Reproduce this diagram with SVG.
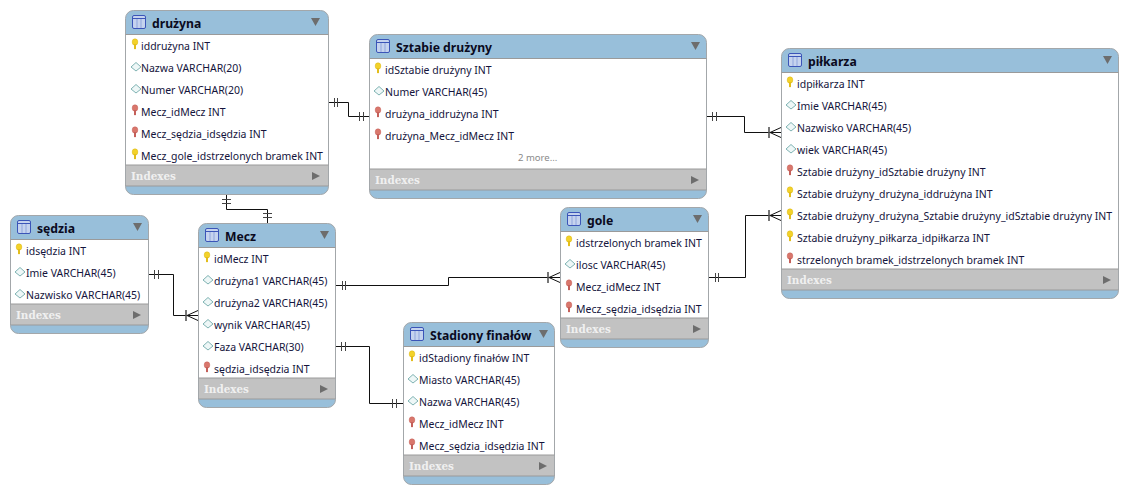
<svg xmlns="http://www.w3.org/2000/svg" width="1128" height="494" viewBox="0 0 1128 494">
<style>
.card{fill:#98bfda;stroke:#a3a7aa;stroke-width:1}
.body{fill:#fff}
.bar{fill:#c2c2c2}
.edge{stroke:#9a9a9a;stroke-width:1;fill:none}
.title{font:bold 12.2px "Noto Sans","DejaVu Sans",sans-serif;fill:#0a0a20}
.row{font:10.47px "Noto Sans","DejaVu Sans",sans-serif;fill:#14143c}
.idx{font:bold 10.4px "DejaVu Serif","Noto Sans",serif;fill:#f0f0f0}
.more{font:9.5px "Noto Sans","DejaVu Sans",sans-serif;fill:#8a8a8a}
.conn{fill:none;stroke:#111;stroke-width:1}
.hash{fill:none;stroke:#444;stroke-width:1}
.crowbar{fill:none;stroke:#555;stroke-width:1.6}
</style>
<defs>
<g id="tbl"><rect x="0.5" y="0.5" width="13" height="13" rx="1.5" fill="#c5d3ee" stroke="#3b55b8"/><path d="M1 3.5H13" stroke="#3b55b8"/><path d="M5 4V13M9 4V13" stroke="#8fa5dc"/></g>
<path id="tri" d="M0 0H9L4.500 8Z" fill="#6d6d6d"/>
<path id="arr" d="M0 0L8 4L0 8Z" fill="#6d6d6d"/>
<g id="pk"><ellipse cx="3" cy="3" rx="2.800" ry="3.200" fill="#f3d22a" stroke="#d8b514" stroke-width=".5"/><path d="M2 5V9.500L3 10.500L4 9.500V5Z" fill="#e2bd1c"/></g>
<g id="fk"><ellipse cx="3" cy="3" rx="2.800" ry="3.200" fill="#d9776c" stroke="#c4605a" stroke-width=".5"/><path d="M2 5V9.500L3 10.500L4 9.500V5Z" fill="#c4605a"/></g>
<path id="col" d="M5 0.500L10 5L5 9L0 5Z" fill="#eef7f7" stroke="#7fb3b3" stroke-width="1"/>
</defs>

<g id="connectors">
<path class="conn" d="M328.500 102.500H348.500V116.500H369"/>
<path class="hash" d="M334.500 98V107M337.500 98V107M359.500 112V121M363.500 112V121"/>
<path class="conn" d="M226.500 195V209.500H267.500V223"/>
<path class="hash" d="M222 199.500H231M222 203.500H231M263 213.500H272M263 217.500H272"/>
<path class="conn" d="M148.500 274.500H173.500V315.500H198"/>
<path class="hash" d="M154.500 270V279M158.500 270V279"/>
<path class="crowbar" d="M186 310V321"/><path class="conn" d="M187 315.500L198 310.500M187 315.500L198 320.500"/>
<path class="conn" d="M335.500 285.500H448.500V277.500H560"/>
<path class="hash" d="M342.500 281V290M345.500 281V290"/>
<path class="crowbar" d="M548 272V283"/><path class="conn" d="M549 277.500L560 272.500M549 277.500L560 282.500"/>
<path class="conn" d="M335.500 346.500H369.500V403.500H403"/>
<path class="hash" d="M341.500 342V351M345.500 342V351M392.500 399V408M396.500 399V408"/>
<path class="conn" d="M706.500 116.500H744.500V132.500H781"/>
<path class="hash" d="M712.500 112V121M716.500 112V121"/>
<path class="crowbar" d="M769 127V138"/><path class="conn" d="M770 132.500L781 127.500M770 132.500L781 137.500"/>
<path class="conn" d="M708.500 277.500H745.500V215.500H781"/>
<path class="hash" d="M715.500 273V282M718.500 273V282"/>
<path class="crowbar" d="M769 210V221"/><path class="conn" d="M770 215.500L781 210.500M770 215.500L781 220.500"/>
</g>

<g id="druzyna" transform="translate(125,10)">
<rect class="card" x="0.500" y="0.500" width="203" height="184" rx="8"/>
<rect class="body" x="1" y="25" width="202" height="130"/><rect class="bar" x="1" y="155" width="202" height="21"/>
<path class="edge" d="M0.500 24.500H203.500M0.500 155H203.500M0.500 176H203.500"/>
<use href="#tbl" x="7" y="5"/><text class="title" x="27" y="18">drużyna</text><use href="#tri" x="186" y="8"/>
<use href="#pk" x="7" y="29"/><text class="row" x="16" y="40">iddrużyna INT</text>
<use href="#col" x="6" y="52"/><text class="row" x="16" y="62">Nazwa VARCHAR(20)</text>
<use href="#col" x="6" y="74"/><text class="row" x="16" y="84">Numer VARCHAR(20)</text>
<use href="#fk" x="7" y="95"/><text class="row" x="16" y="106">Mecz_idMecz INT</text>
<use href="#fk" x="7" y="117"/><text class="row" x="16" y="128">Mecz_sędzia_idsędzia INT</text>
<use href="#pk" x="7" y="139"/><text class="row" x="16" y="150">Mecz_gole_idstrzelonych bramek INT</text>
<text class="idx" x="6" y="170">Indexes</text><use href="#arr" x="187" y="162"/>
</g>

<g id="sztabie" transform="translate(369,34)">
<rect class="card" x="0.500" y="0.500" width="337" height="164" rx="8"/>
<rect class="body" x="1" y="25" width="336" height="110"/><rect class="bar" x="1" y="135" width="336" height="21"/>
<path class="edge" d="M0.500 24.500H337.500M0.500 135H337.500M0.500 156H337.500"/>
<use href="#tbl" x="7" y="5"/><text class="title" x="27" y="18">Sztabie drużyny</text><use href="#tri" x="322" y="8"/>
<use href="#pk" x="6" y="29"/><text class="row" x="16" y="40">idSztabie drużyny INT</text>
<use href="#col" x="5" y="52"/><text class="row" x="16" y="62">Numer VARCHAR(45)</text>
<use href="#fk" x="6" y="73"/><text class="row" x="16" y="84">drużyna_iddrużyna INT</text>
<use href="#fk" x="6" y="95"/><text class="row" x="16" y="106">drużyna_Mecz_idMecz INT</text>
<text class="more" x="149" y="127">2 more...</text>
<text class="idx" x="6" y="150">Indexes</text><use href="#arr" x="322" y="142"/>
</g>

<g id="pilkarza" transform="translate(781,48)">
<rect class="card" x="0.500" y="0.500" width="337" height="250" rx="8"/>
<rect class="body" x="1" y="25" width="336" height="196"/><rect class="bar" x="1" y="221" width="336" height="21"/>
<path class="edge" d="M0.500 24.500H337.500M0.500 221H337.500M0.500 242H337.500"/>
<use href="#tbl" x="7" y="5"/><text class="title" x="27" y="18">piłkarza</text><use href="#tri" x="322" y="8"/>
<use href="#pk" x="6" y="29"/><text class="row" x="16" y="40">idpiłkarza INT</text>
<use href="#col" x="5" y="52"/><text class="row" x="16" y="62">Imie VARCHAR(45)</text>
<use href="#col" x="5" y="74"/><text class="row" x="16" y="84">Nazwisko VARCHAR(45)</text>
<use href="#col" x="5" y="96"/><text class="row" x="16" y="106">wiek VARCHAR(45)</text>
<use href="#fk" x="6" y="117"/><text class="row" x="16" y="128">Sztabie drużyny_idSztabie drużyny INT</text>
<use href="#pk" x="6" y="139"/><text class="row" x="16" y="150">Sztabie drużyny_drużyna_iddrużyna INT</text>
<use href="#pk" x="6" y="161"/><text class="row" x="16" y="172">Sztabie drużyny_drużyna_Sztabie drużyny_idSztabie drużyny INT</text>
<use href="#pk" x="6" y="183"/><text class="row" x="16" y="194">Sztabie drużyny_piłkarza_idpiłkarza INT</text>
<use href="#fk" x="6" y="205"/><text class="row" x="16" y="216">strzelonych bramek_idstrzelonych bramek INT</text>
<text class="idx" x="6" y="236">Indexes</text><use href="#arr" x="322" y="228"/>
</g>

<g id="sedzia" transform="translate(10,215)">
<rect class="card" x="0.500" y="0.500" width="138" height="118" rx="8"/>
<rect class="body" x="1" y="25" width="137" height="64"/><rect class="bar" x="1" y="89" width="137" height="21"/>
<path class="edge" d="M0.500 24.500H138.500M0.500 89H138.500M0.500 110H138.500"/>
<use href="#tbl" x="7" y="5"/><text class="title" x="27" y="18">sędzia</text><use href="#tri" x="123" y="8"/>
<use href="#pk" x="6" y="29"/><text class="row" x="16" y="40">idsędzia INT</text>
<use href="#col" x="5" y="52"/><text class="row" x="16" y="62">Imie VARCHAR(45)</text>
<use href="#col" x="5" y="74"/><text class="row" x="16" y="84">Nazwisko VARCHAR(45)</text>
<text class="idx" x="6" y="104">Indexes</text><use href="#arr" x="123" y="96"/>
</g>

<g id="mecz" transform="translate(198,223)">
<rect class="card" x="0.500" y="0.500" width="137" height="184" rx="8"/>
<rect class="body" x="1" y="25" width="136" height="130"/><rect class="bar" x="1" y="155" width="136" height="21"/>
<path class="edge" d="M0.500 24.500H137.500M0.500 155H137.500M0.500 176H137.500"/>
<use href="#tbl" x="7" y="5"/><text class="title" x="27" y="18">Mecz</text><use href="#tri" x="122" y="8"/>
<use href="#pk" x="6" y="29"/><text class="row" x="16" y="40">idMecz INT</text>
<use href="#col" x="5" y="52"/><text class="row" x="16" y="62">drużyna1 VARCHAR(45)</text>
<use href="#col" x="5" y="74"/><text class="row" x="16" y="84">drużyna2 VARCHAR(45)</text>
<use href="#col" x="5" y="96"/><text class="row" x="16" y="106">wynik VARCHAR(45)</text>
<use href="#col" x="5" y="118"/><text class="row" x="16" y="128">Faza VARCHAR(30)</text>
<use href="#fk" x="6" y="139"/><text class="row" x="16" y="150">sędzia_idsędzia INT</text>
<text class="idx" x="6" y="170">Indexes</text><use href="#arr" x="122" y="162"/>
</g>

<g id="gole" transform="translate(560,207)">
<rect class="card" x="0.500" y="0.500" width="148" height="140" rx="8"/>
<rect class="body" x="1" y="25" width="147" height="86"/><rect class="bar" x="1" y="111" width="147" height="21"/>
<path class="edge" d="M0.500 24.500H148.500M0.500 111H148.500M0.500 132H148.500"/>
<use href="#tbl" x="7" y="5"/><text class="title" x="27" y="18">gole</text><use href="#tri" x="133" y="8"/>
<use href="#pk" x="6" y="29"/><text class="row" x="16" y="40">idstrzelonych bramek INT</text>
<use href="#col" x="5" y="52"/><text class="row" x="16" y="62">ilosc VARCHAR(45)</text>
<use href="#fk" x="6" y="73"/><text class="row" x="16" y="84">Mecz_idMecz INT</text>
<use href="#fk" x="6" y="95"/><text class="row" x="16" y="106">Mecz_sędzia_idsędzia INT</text>
<text class="idx" x="6" y="126">Indexes</text><use href="#arr" x="133" y="118"/>
</g>

<g id="stadiony" transform="translate(403,322)">
<rect class="card" x="0.500" y="0.500" width="151" height="162" rx="8"/>
<rect class="body" x="1" y="25" width="150" height="108"/><rect class="bar" x="1" y="133" width="150" height="21"/>
<path class="edge" d="M0.500 24.500H151.500M0.500 133H151.500M0.500 154H151.500"/>
<use href="#tbl" x="7" y="5"/><text class="title" x="27" y="18">Stadiony finałów</text><use href="#tri" x="136" y="8"/>
<use href="#pk" x="6" y="29"/><text class="row" x="16" y="40">idStadiony finałów INT</text>
<use href="#col" x="5" y="52"/><text class="row" x="16" y="62">Miasto VARCHAR(45)</text>
<use href="#col" x="5" y="74"/><text class="row" x="16" y="84">Nazwa VARCHAR(45)</text>
<use href="#fk" x="6" y="95"/><text class="row" x="16" y="106">Mecz_idMecz INT</text>
<use href="#fk" x="6" y="117"/><text class="row" x="16" y="128">Mecz_sędzia_idsędzia INT</text>
<text class="idx" x="6" y="148">Indexes</text><use href="#arr" x="136" y="140"/>
</g>
</svg>
